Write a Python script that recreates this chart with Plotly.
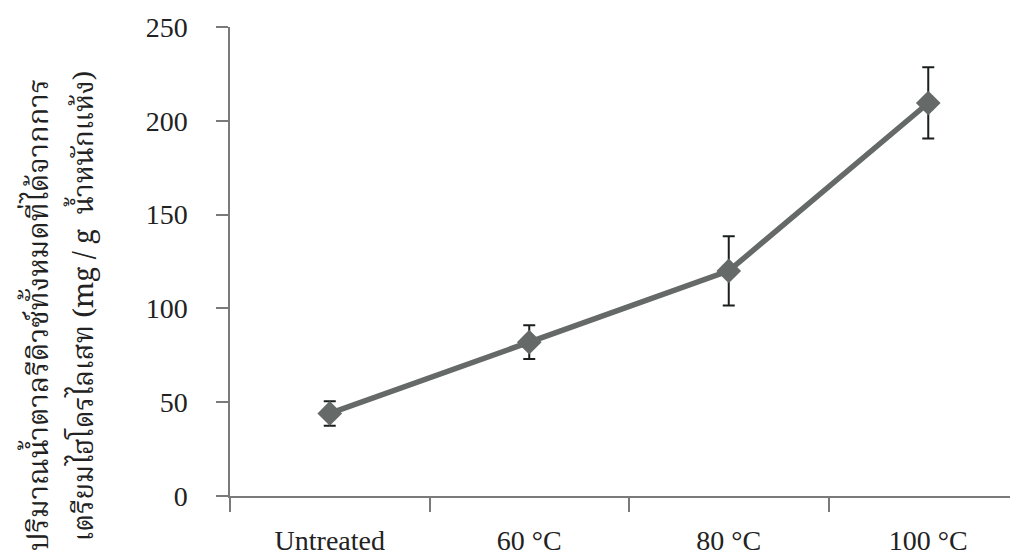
import plotly.graph_objects as go

categories = ["Untreated", "60 °C", "80 °C", "100 °C"]
sugar = [44, 82, 120, 209.5]
sugar_err = [6.5, 9, 18.5, 19]
y_ticks = [0, 50, 100, 150, 200, 250]
y_title_1 = "ปริมาณน้ำตาลรีดิวซ์ทั้งหมดที่ได้จากการ"
y_title_2 = "เตรียมไฮโดรไลเสท (mg / g  น้ำหนักแห้ง)"

serif = "Liberation Serif, Times New Roman, serif"
thai = "Noto Serif Thai, Noto Sans Thai, Noto Sans, DejaVu Sans, sans-serif"

fig = go.Figure()
fig.add_trace(go.Scatter(
    x=categories, y=sugar,
    mode="lines+markers",
    line=dict(color="#656a68", width=5.5),
    marker=dict(symbol="diamond", size=19, color="#656a68"),
    error_y=dict(type="data", array=sugar_err, visible=True,
                 color="#1a1f1d", thickness=2, width=6),
    showlegend=False,
))

fig.update_xaxes(
    type="category", range=[-0.5, 3.49], automargin=False,
    showline=True, linecolor="#7a7a7a", linewidth=1.5,
    ticks="outside", tickson="boundaries", ticklen=14, tickcolor="#7a7a7a",
    tickwidth=1.5, showgrid=False, zeroline=False,
    tickfont=dict(family=serif, size=28, color="#222"),
    ticklabelstandoff=19,
)
fig.update_yaxes(
    range=[0, 250], tickvals=y_ticks, automargin=False,
    showline=True, linecolor="#7a7a7a", linewidth=1.5,
    ticks="outside", ticklen=12, tickcolor="#7a7a7a", tickwidth=1.5,
    showgrid=False, zeroline=False,
    tickfont=dict(family=serif, size=28, color="#222"),
    ticklabelstandoff=23,
)

fig.add_annotation(
    text=y_title_1,
    xref="paper", yref="paper", x=-0.2387, y=0.386,
    xanchor="center", yanchor="middle", textangle=-90, showarrow=False,
    font=dict(family=thai, size=29, color="#222"),
)
fig.add_annotation(
    text=y_title_2,
    xref="paper", yref="paper", x=-0.182, y=0.405,
    xanchor="center", yanchor="middle", textangle=-90, showarrow=False,
    font=dict(family=thai, size=28, color="#222"),
)

fig.update_layout(
    width=1018, height=555,
    margin=dict(l=222, r=0, t=19, b=67, autoexpand=False),
    plot_bgcolor="white", paper_bgcolor="white",
)

fig.write_html("out.html")
